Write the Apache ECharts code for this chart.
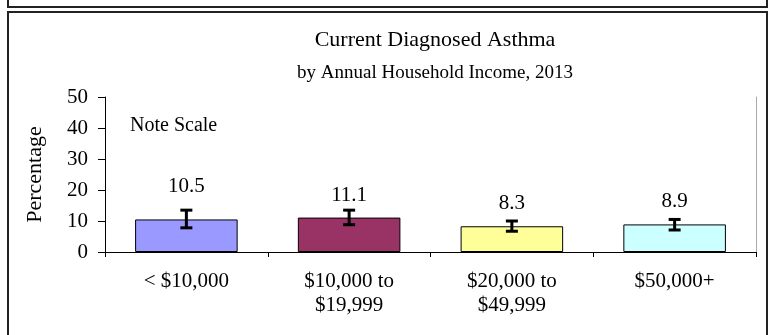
<!DOCTYPE html>
<html>
<head>
<meta charset="utf-8">
<script src="https://cdn.jsdelivr.net/npm/echarts@6/dist/echarts.min.js"></script>
<style>
  html, body { margin: 0; padding: 0; background: #fff; }
  #chart { width: 775px; height: 335px; }
</style>
</head>
<body>
<div id="chart"></div>
<script>
// Current diagnosed asthma prevalence by annual household income, 2013
var categories = ['< $10,000', '$10,000 to\n$19,999', '$20,000 to\n$49,999', '$50,000+'];
var percentages = [10.5, 11.1, 8.3, 8.9];
var ciLower = [7.8, 8.8, 6.7, 7.1];
var ciUpper = [13.5, 13.5, 10.0, 10.5];
var barColors = ['#9999FF', '#993366', '#FFFF99', '#CCFFFF'];
var yTicks = [0, 10, 20, 30, 40, 50];

var serif = '"Liberation Serif", "Times New Roman", serif';

var chart = echarts.init(document.getElementById('chart'), null, { renderer: 'canvas' });

var barData = percentages.map(function (v, i) {
  var item = { value: v, itemStyle: { color: barColors[i] } };
  if (i === 0) item.label = { distance: 22 };
  return item;
});

var errorData = percentages.map(function (v, i) {
  return [i, ciLower[i], ciUpper[i]];
});

chart.setOption({
  animation: false,
  backgroundColor: '#fff',
  title: [
    {
      text: 'Current Diagnosed Asthma',
      left: 430, top: 24, textAlign: 'center',
      textStyle: { fontFamily: serif, fontSize: 22, fontWeight: 'normal', color: '#000' }
    },
    {
      text: 'by Annual Household Income, 2013',
      left: 430, top: 59, textAlign: 'center',
      textStyle: { fontFamily: serif, fontSize: 19, fontWeight: 'normal', color: '#000' }
    }
  ],
  graphic: [
    { type: 'rect', shape: { x: 8, y: -10, width: 759, height: 17 },
      style: { fill: 'none', stroke: '#222', lineWidth: 2 } },
    { type: 'rect', shape: { x: 8, y: 12, width: 759, height: 330 },
      style: { fill: 'none', stroke: '#222', lineWidth: 2 } },
    { type: 'text', left: 130, top: 116,
      style: { text: 'Note Scale', font: '20px ' + serif, fill: '#000' } }
  ],
  grid: { left: 105, right: 19, top: 97, bottom: 83 },
  xAxis: {
    type: 'category',
    data: categories,
    boundaryGap: true,
    axisLine: { lineStyle: { color: '#000', width: 1 } },
    axisTick: { show: true, length: 5, interval: 0, lineStyle: { color: '#000' } },
    axisLabel: {
      interval: 0, margin: 17, color: '#000',
      fontFamily: serif, fontSize: 21, lineHeight: 24
    }
  },
  yAxis: [
    {
      type: 'value', min: 0, max: 50, interval: 10,
      name: 'Percentage', nameLocation: 'middle', nameGap: 59, nameRotate: 90,
      nameTextStyle: { fontFamily: serif, fontSize: 22, color: '#000' },
      axisLine: { show: true, lineStyle: { color: '#000', width: 1 } },
      axisTick: { show: true, length: 7, lineStyle: { color: '#000' } },
      axisLabel: {
        margin: 17, color: '#000', fontFamily: serif, fontSize: 21,
        formatter: function (v) { return yTicks.indexOf(v) >= 0 ? String(v) : ''; }
      },
      splitLine: { show: false }
    },
    {
      type: 'value', min: 0, max: 50, interval: 10, position: 'right',
      axisLine: { show: true, lineStyle: { color: '#aaa', width: 1 } },
      axisTick: { show: false }, axisLabel: { show: false }, splitLine: { show: false }
    }
  ],
  series: [
    {
      type: 'bar',
      data: barData,
      barWidth: '63%',
      itemStyle: { borderColor: '#000', borderWidth: 1 },
      label: {
        show: true, position: 'top', distance: 12, color: '#000',
        fontFamily: serif, fontSize: 21,
        formatter: function (p) { return p.value.toFixed(1); }
      },
      z: 2
    },
    {
      type: 'custom',
      data: errorData,
      z: 5,
      renderItem: function (params, api) {
        var x = api.value(0);
        var lo = api.coord([x, api.value(1)]);
        var hi = api.coord([x, api.value(2)]);
        var half = 6;
        var style = { stroke: '#000', lineWidth: 3 };
        return {
          type: 'group',
          children: [
            { type: 'line', shape: { x1: lo[0], y1: lo[1], x2: hi[0], y2: hi[1] }, style: style },
            { type: 'line', shape: { x1: lo[0] - half, y1: lo[1], x2: lo[0] + half, y2: lo[1] }, style: style },
            { type: 'line', shape: { x1: hi[0] - half, y1: hi[1], x2: hi[0] + half, y2: hi[1] }, style: style }
          ]
        };
      }
    }
  ]
});
</script>
</body>
</html>
